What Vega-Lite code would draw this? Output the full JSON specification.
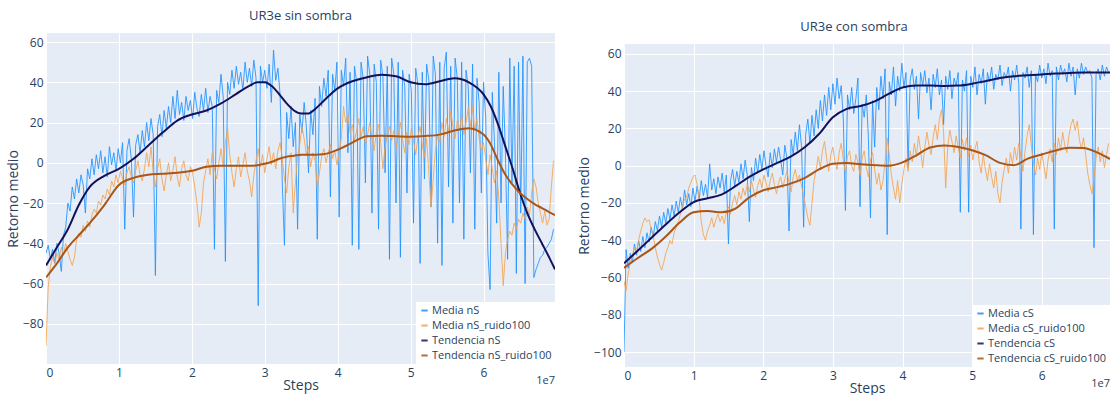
{
"$schema": "https://vega.github.io/schema/vega-lite/v6.json",
"background": "white",
"padding": {"left": 6, "top": 9, "right": 0, "bottom": 0},
"spacing": 22,
"datasets": {
"nS": [
{"x":0,"m":-45,"r":-91},{"x":0.03,"m":-41,"r":-62},{"x":0.06,"m":-48,"r":-52},{"x":0.09,"m":-43,"r":-47},{"x":0.12,"m":-50,"r":-50},{"x":0.15,"m":-40,"r":-45},{"x":0.18,"m":-45,"r":-48},{"x":0.21,"m":-54,"r":-42},{"x":0.24,"m":-36,"r":-46},{"x":0.27,"m":-32,"r":-40},
{"x":0.3,"m":-20,"r":-44},{"x":0.33,"m":-24,"r":-48},{"x":0.36,"m":-12,"r":-51},{"x":0.39,"m":-18,"r":-47},{"x":0.42,"m":-8,"r":-38},{"x":0.45,"m":-15,"r":-35},{"x":0.48,"m":-6,"r":-37},{"x":0.51,"m":-11,"r":-31},{"x":0.54,"m":-25,"r":-34},{"x":0.57,"m":-3,"r":-29},
{"x":0.6,"m":-8,"r":-32},{"x":0.63,"m":2,"r":-26},{"x":0.66,"m":-6,"r":-23},{"x":0.69,"m":4,"r":-25},{"x":0.72,"m":-3,"r":-19},{"x":0.75,"m":6,"r":-21},{"x":0.78,"m":-5,"r":-16},{"x":0.81,"m":3,"r":-18},{"x":0.84,"m":-7,"r":-13},{"x":0.87,"m":8,"r":-16},
{"x":0.9,"m":-1,"r":-9},{"x":0.93,"m":5,"r":-12},{"x":0.96,"m":-4,"r":-6},{"x":0.99,"m":7,"r":-10},{"x":1.02,"m":0,"r":-4},{"x":1.05,"m":10,"r":-8},{"x":1.08,"m":-33,"r":-11},{"x":1.11,"m":6,"r":-5},{"x":1.14,"m":12,"r":-2},{"x":1.17,"m":2,"r":-7},
{"x":1.2,"m":-27,"r":-10},{"x":1.23,"m":9,"r":-4},{"x":1.26,"m":14,"r":1},{"x":1.29,"m":5,"r":-6},{"x":1.32,"m":16,"r":-9},{"x":1.35,"m":8,"r":-3},{"x":1.38,"m":20,"r":5},{"x":1.41,"m":11,"r":-2},{"x":1.44,"m":22,"r":8},{"x":1.47,"m":14,"r":-5},
{"x":1.5,"m":-56,"r":-12},{"x":1.53,"m":18,"r":-3},{"x":1.56,"m":24,"r":2},{"x":1.59,"m":13,"r":-8},{"x":1.62,"m":26,"r":-14},{"x":1.65,"m":17,"r":-6},{"x":1.68,"m":28,"r":0},{"x":1.71,"m":20,"r":-9},{"x":1.74,"m":33,"r":-4},{"x":1.77,"m":22,"r":3},
{"x":1.8,"m":36,"r":-7},{"x":1.83,"m":24,"r":-12},{"x":1.86,"m":30,"r":-3},{"x":1.89,"m":21,"r":1},{"x":1.92,"m":33,"r":-6},{"x":1.95,"m":26,"r":-9},{"x":1.98,"m":31,"r":-2},{"x":2.01,"m":22,"r":-5},{"x":2.04,"m":35,"r":-12},{"x":2.07,"m":27,"r":-20},
{"x":2.1,"m":23,"r":-32},{"x":2.13,"m":34,"r":-25},{"x":2.16,"m":26,"r":-10},{"x":2.19,"m":37,"r":-4},{"x":2.22,"m":25,"r":2},{"x":2.25,"m":33,"r":-6},{"x":2.28,"m":28,"r":5},{"x":2.31,"m":-43,"r":-3},{"x":2.34,"m":36,"r":-8},{"x":2.37,"m":30,"r":0},
{"x":2.4,"m":44,"r":7},{"x":2.43,"m":33,"r":-2},{"x":2.46,"m":-49,"r":10},{"x":2.49,"m":40,"r":17},{"x":2.52,"m":34,"r":4},{"x":2.55,"m":46,"r":-5},{"x":2.58,"m":37,"r":-12},{"x":2.61,"m":48,"r":-3},{"x":2.64,"m":39,"r":3},{"x":2.67,"m":45,"r":-7},
{"x":2.7,"m":36,"r":-1},{"x":2.73,"m":50,"r":5},{"x":2.76,"m":40,"r":-4},{"x":2.79,"m":47,"r":-9},{"x":2.82,"m":38,"r":-17},{"x":2.85,"m":51,"r":-6},{"x":2.88,"m":42,"r":1},{"x":2.91,"m":-71,"r":7},{"x":2.94,"m":48,"r":-2},{"x":2.97,"m":40,"r":4},
{"x":3,"m":46,"r":-5},{"x":3.03,"m":37,"r":2},{"x":3.06,"m":49,"r":8},{"x":3.09,"m":30,"r":-1},{"x":3.12,"m":56,"r":5},{"x":3.15,"m":41,"r":-3},{"x":3.18,"m":47,"r":6},{"x":3.21,"m":34,"r":10},{"x":3.24,"m":-10,"r":2},{"x":3.27,"m":-41,"r":-8},
{"x":3.3,"m":25,"r":-15},{"x":3.33,"m":12,"r":-2},{"x":3.36,"m":28,"r":5},{"x":3.39,"m":8,"r":-25},{"x":3.42,"m":20,"r":-10},{"x":3.45,"m":-33,"r":3},{"x":3.48,"m":24,"r":9},{"x":3.51,"m":15,"r":18},{"x":3.54,"m":30,"r":12},{"x":3.57,"m":18,"r":4},
{"x":3.6,"m":-5,"r":8},{"x":3.63,"m":26,"r":-2},{"x":3.66,"m":14,"r":5},{"x":3.69,"m":32,"r":1},{"x":3.72,"m":-38,"r":-12},{"x":3.75,"m":38,"r":-5},{"x":3.78,"m":28,"r":3},{"x":3.81,"m":42,"r":7},{"x":3.84,"m":33,"r":0},{"x":3.87,"m":46,"r":5},
{"x":3.9,"m":-17,"r":9},{"x":3.93,"m":44,"r":2},{"x":3.96,"m":36,"r":6},{"x":3.99,"m":50,"r":-1},{"x":4.02,"m":-27,"r":4},{"x":4.05,"m":46,"r":12},{"x":4.08,"m":38,"r":28},{"x":4.11,"m":52,"r":20},{"x":4.14,"m":5,"r":24},{"x":4.17,"m":45,"r":15},
{"x":4.2,"m":-41,"r":19},{"x":4.23,"m":48,"r":11},{"x":4.26,"m":40,"r":16},{"x":4.29,"m":-43,"r":22},{"x":4.32,"m":50,"r":13},{"x":4.35,"m":42,"r":18},{"x":4.38,"m":-10,"r":9},{"x":4.41,"m":53,"r":14},{"x":4.44,"m":44,"r":20},{"x":4.47,"m":-25,"r":12},
{"x":4.5,"m":49,"r":6},{"x":4.53,"m":40,"r":15},{"x":4.56,"m":-33,"r":19},{"x":4.59,"m":51,"r":10},{"x":4.62,"m":43,"r":-3},{"x":4.65,"m":-5,"r":8},{"x":4.68,"m":48,"r":14},{"x":4.71,"m":-48,"r":18},{"x":4.74,"m":52,"r":11},{"x":4.77,"m":44,"r":16},
{"x":4.8,"m":-20,"r":7},{"x":4.83,"m":50,"r":13},{"x":4.86,"m":-47,"r":20},{"x":4.89,"m":46,"r":12},{"x":4.92,"m":38,"r":5},{"x":4.95,"m":-15,"r":15},{"x":4.98,"m":44,"r":9},{"x":5.01,"m":36,"r":17},{"x":5.04,"m":-30,"r":11},{"x":5.07,"m":47,"r":4},
{"x":5.1,"m":39,"r":13},{"x":5.13,"m":-50,"r":18},{"x":5.16,"m":45,"r":9},{"x":5.19,"m":-8,"r":3},{"x":5.22,"m":49,"r":12},{"x":5.25,"m":41,"r":-5},{"x":5.28,"m":-22,"r":-22},{"x":5.31,"m":53,"r":-8},{"x":5.34,"m":44,"r":6},{"x":5.37,"m":-40,"r":14},
{"x":5.4,"m":50,"r":10},{"x":5.43,"m":-51,"r":20},{"x":5.46,"m":47,"r":13},{"x":5.49,"m":55,"r":22},{"x":5.52,"m":-12,"r":15},{"x":5.55,"m":48,"r":26},{"x":5.58,"m":-30,"r":18},{"x":5.61,"m":52,"r":12},{"x":5.64,"m":42,"r":21},{"x":5.67,"m":-20,"r":16},
{"x":5.7,"m":50,"r":24},{"x":5.73,"m":-38,"r":14},{"x":5.76,"m":46,"r":20},{"x":5.79,"m":38,"r":27},{"x":5.82,"m":-5,"r":18},{"x":5.85,"m":49,"r":28},{"x":5.88,"m":-33,"r":16},{"x":5.91,"m":42,"r":22},{"x":5.94,"m":30,"r":12},{"x":5.97,"m":-15,"r":6},
{"x":6,"m":40,"r":10},{"x":6.03,"m":22,"r":2},{"x":6.06,"m":-45,"r":-6},{"x":6.09,"m":-63,"r":4},{"x":6.12,"m":35,"r":-3},{"x":6.15,"m":10,"r":-10},{"x":6.18,"m":-30,"r":-4},{"x":6.21,"m":45,"r":-18},{"x":6.24,"m":-20,"r":-40},{"x":6.27,"m":38,"r":-61},
{"x":6.3,"m":5,"r":-45},{"x":6.33,"m":-48,"r":-38},{"x":6.36,"m":52,"r":-34},{"x":6.39,"m":-10,"r":-36},{"x":6.42,"m":48,"r":-30},{"x":6.45,"m":-55,"r":-33},{"x":6.48,"m":50,"r":-28},{"x":6.51,"m":-25,"r":-30},{"x":6.54,"m":53,"r":-25},{"x":6.57,"m":-60,"r":-28},
{"x":6.6,"m":50,"r":-22},{"x":6.63,"m":52,"r":-26},{"x":6.66,"m":48,"r":-15},{"x":6.69,"m":-57,"r":-8},{"x":6.72,"m":-53,"r":-12},{"x":6.75,"m":-50,"r":-20},{"x":6.78,"m":-47,"r":-25},{"x":6.81,"m":-46,"r":-30},{"x":6.84,"m":-43,"r":-24},{"x":6.87,"m":-42,"r":-31},
{"x":6.9,"m":-40,"r":-28},{"x":6.93,"m":-38,"r":-12},{"x":6.96,"m":-33,"r":1}
],
"cS": [
{"x":0,"m":-100,"r":-62},{"x":0.03,"m":-45,"r":-67},{"x":0.06,"m":-55,"r":-58},{"x":0.09,"m":-47,"r":-52},{"x":0.12,"m":-52,"r":-48},{"x":0.15,"m":-42,"r":-44},{"x":0.18,"m":-48,"r":-46},{"x":0.21,"m":-40,"r":-40},{"x":0.24,"m":-46,"r":-35},{"x":0.27,"m":-38,"r":-31},
{"x":0.3,"m":-44,"r":-28},{"x":0.33,"m":-36,"r":-30},{"x":0.36,"m":-41,"r":-29},{"x":0.39,"m":-33,"r":-34},{"x":0.42,"m":-38,"r":-38},{"x":0.45,"m":-30,"r":-44},{"x":0.48,"m":-35,"r":-49},{"x":0.51,"m":-27,"r":-53},{"x":0.54,"m":-33,"r":-56},{"x":0.57,"m":-25,"r":-52},
{"x":0.6,"m":-31,"r":-47},{"x":0.63,"m":-23,"r":-44},{"x":0.66,"m":-29,"r":-40},{"x":0.69,"m":-21,"r":-42},{"x":0.72,"m":-27,"r":-36},{"x":0.75,"m":-19,"r":-33},{"x":0.78,"m":-25,"r":-30},{"x":0.81,"m":-17,"r":-26},{"x":0.84,"m":-23,"r":-22},{"x":0.87,"m":-13,"r":-18},
{"x":0.9,"m":-21,"r":-17},{"x":0.93,"m":-15,"r":-12},{"x":0.96,"m":-22,"r":-9},{"x":0.99,"m":-12,"r":-6},{"x":1.02,"m":-19,"r":-5},{"x":1.05,"m":-11,"r":-10},{"x":1.08,"m":-18,"r":-18},{"x":1.11,"m":-8,"r":-30},{"x":1.14,"m":-16,"r":-37},{"x":1.17,"m":-10,"r":-40},
{"x":1.2,"m":-17,"r":-35},{"x":1.23,"m":1,"r":-32},{"x":1.26,"m":-13,"r":-28},{"x":1.29,"m":-7,"r":-33},{"x":1.32,"m":-15,"r":-29},{"x":1.35,"m":-6,"r":-26},{"x":1.38,"m":-12,"r":-30},{"x":1.41,"m":-4,"r":-27},{"x":1.44,"m":-14,"r":-31},{"x":1.47,"m":-5,"r":-25},
{"x":1.5,"m":-42,"r":-22},{"x":1.53,"m":-8,"r":-26},{"x":1.56,"m":-2,"r":-20},{"x":1.59,"m":-11,"r":-16},{"x":1.62,"m":-3,"r":-21},{"x":1.65,"m":-9,"r":-14},{"x":1.68,"m":1,"r":-18},{"x":1.71,"m":-7,"r":-12},{"x":1.74,"m":3,"r":-16},{"x":1.77,"m":-5,"r":-10},
{"x":1.8,"m":-30,"r":-14},{"x":1.83,"m":-1,"r":-8},{"x":1.86,"m":-8,"r":-13},{"x":1.89,"m":4,"r":-17},{"x":1.92,"m":-4,"r":-11},{"x":1.95,"m":6,"r":-7},{"x":1.98,"m":-2,"r":-12},{"x":2.01,"m":8,"r":-5},{"x":2.04,"m":0,"r":-9},{"x":2.07,"m":-6,"r":-14},
{"x":2.1,"m":7,"r":-8},{"x":2.13,"m":-1,"r":-4},{"x":2.16,"m":9,"r":-10},{"x":2.19,"m":2,"r":-15},{"x":2.22,"m":10,"r":-9},{"x":2.25,"m":3,"r":-6},{"x":2.28,"m":-5,"r":-12},{"x":2.31,"m":11,"r":-7},{"x":2.34,"m":4,"r":-3},{"x":2.37,"m":-35,"r":-9},
{"x":2.4,"m":14,"r":-14},{"x":2.43,"m":6,"r":-6},{"x":2.46,"m":18,"r":-2},{"x":2.49,"m":8,"r":-8},{"x":2.52,"m":22,"r":-5},{"x":2.55,"m":10,"r":-11},{"x":2.58,"m":-33,"r":-16},{"x":2.61,"m":17,"r":-22},{"x":2.64,"m":25,"r":-28},{"x":2.67,"m":12,"r":-32},
{"x":2.7,"m":27,"r":-20},{"x":2.73,"m":16,"r":-8},{"x":2.76,"m":30,"r":-2},{"x":2.79,"m":20,"r":5},{"x":2.82,"m":35,"r":-1},{"x":2.85,"m":24,"r":8},{"x":2.88,"m":38,"r":13},{"x":2.91,"m":27,"r":4},{"x":2.94,"m":42,"r":-3},{"x":2.97,"m":30,"r":6},
{"x":3,"m":44,"r":10},{"x":3.03,"m":33,"r":2},{"x":3.06,"m":47,"r":-2},{"x":3.09,"m":36,"r":7},{"x":3.12,"m":43,"r":12},{"x":3.15,"m":25,"r":3},{"x":3.18,"m":-24,"r":-4},{"x":3.21,"m":38,"r":5},{"x":3.24,"m":30,"r":8},{"x":3.27,"m":42,"r":0},
{"x":3.3,"m":28,"r":-3},{"x":3.33,"m":36,"r":6},{"x":3.36,"m":47,"r":2},{"x":3.39,"m":-22,"r":-5},{"x":3.42,"m":33,"r":4},{"x":3.45,"m":26,"r":8},{"x":3.48,"m":38,"r":-1},{"x":3.51,"m":15,"r":-6},{"x":3.54,"m":-28,"r":3},{"x":3.57,"m":35,"r":7},
{"x":3.6,"m":10,"r":-2},{"x":3.63,"m":42,"r":-10},{"x":3.66,"m":30,"r":-4},{"x":3.69,"m":48,"r":-13},{"x":3.72,"m":36,"r":-8},{"x":3.75,"m":52,"r":2},{"x":3.78,"m":-37,"r":15},{"x":3.81,"m":45,"r":6},{"x":3.84,"m":38,"r":-5},{"x":3.87,"m":53,"r":-12},
{"x":3.9,"m":32,"r":-18},{"x":3.93,"m":48,"r":-8},{"x":3.96,"m":40,"r":-20},{"x":3.99,"m":55,"r":-10},{"x":4.02,"m":42,"r":-2},{"x":4.05,"m":50,"r":4},{"x":4.08,"m":-1,"r":-3},{"x":4.11,"m":46,"r":8},{"x":4.14,"m":52,"r":2},{"x":4.17,"m":41,"r":12},
{"x":4.2,"m":48,"r":5},{"x":4.23,"m":25,"r":16},{"x":4.26,"m":50,"r":8},{"x":4.29,"m":43,"r":-1},{"x":4.32,"m":51,"r":10},{"x":4.35,"m":39,"r":18},{"x":4.38,"m":47,"r":11},{"x":4.41,"m":30,"r":6},{"x":4.44,"m":49,"r":15},{"x":4.47,"m":42,"r":22},
{"x":4.5,"m":52,"r":14},{"x":4.53,"m":38,"r":25},{"x":4.56,"m":46,"r":30},{"x":4.59,"m":22,"r":18},{"x":4.62,"m":48,"r":-12},{"x":4.65,"m":41,"r":10},{"x":4.68,"m":51,"r":19},{"x":4.71,"m":36,"r":13},{"x":4.74,"m":47,"r":7},{"x":4.77,"m":43,"r":16},
{"x":4.8,"m":50,"r":10},{"x":4.83,"m":-25,"r":4},{"x":4.86,"m":46,"r":14},{"x":4.89,"m":40,"r":8},{"x":4.92,"m":51,"r":15},{"x":4.95,"m":-25,"r":5},{"x":4.98,"m":48,"r":11},{"x":5.01,"m":42,"r":3},{"x":5.04,"m":53,"r":9},{"x":5.07,"m":38,"r":13},
{"x":5.1,"m":49,"r":2},{"x":5.13,"m":44,"r":-4},{"x":5.16,"m":52,"r":6},{"x":5.19,"m":33,"r":-2},{"x":5.22,"m":50,"r":-8},{"x":5.25,"m":45,"r":1},{"x":5.28,"m":53,"r":-6},{"x":5.31,"m":41,"r":-12},{"x":5.34,"m":49,"r":-3},{"x":5.37,"m":46,"r":-15},
{"x":5.4,"m":54,"r":-20},{"x":5.43,"m":43,"r":-9},{"x":5.46,"m":50,"r":-2},{"x":5.49,"m":47,"r":4},{"x":5.52,"m":53,"r":-4},{"x":5.55,"m":40,"r":7},{"x":5.58,"m":51,"r":1},{"x":5.61,"m":46,"r":10},{"x":5.64,"m":54,"r":3},{"x":5.67,"m":44,"r":12},
{"x":5.7,"m":-34,"r":5},{"x":5.73,"m":50,"r":-3},{"x":5.76,"m":47,"r":8},{"x":5.79,"m":53,"r":16},{"x":5.82,"m":42,"r":22},{"x":5.85,"m":51,"r":11},{"x":5.88,"m":-37,"r":2},{"x":5.91,"m":49,"r":-5},{"x":5.94,"m":45,"r":4},{"x":5.97,"m":54,"r":-2},
{"x":6,"m":47,"r":7},{"x":6.03,"m":52,"r":0},{"x":6.06,"m":44,"r":-7},{"x":6.09,"m":55,"r":3},{"x":6.12,"m":48,"r":9},{"x":6.15,"m":51,"r":2},{"x":6.18,"m":-34,"r":12},{"x":6.21,"m":53,"r":6},{"x":6.24,"m":46,"r":15},{"x":6.27,"m":54,"r":8},
{"x":6.3,"m":49,"r":18},{"x":6.33,"m":52,"r":11},{"x":6.36,"m":45,"r":7},{"x":6.39,"m":55,"r":16},{"x":6.42,"m":48,"r":22},{"x":6.45,"m":53,"r":25},{"x":6.48,"m":38,"r":19},{"x":6.51,"m":52,"r":24},{"x":6.54,"m":47,"r":14},{"x":6.57,"m":55,"r":9},
{"x":6.6,"m":49,"r":15},{"x":6.63,"m":53,"r":6},{"x":6.66,"m":50,"r":-4},{"x":6.69,"m":51,"r":-10},{"x":6.72,"m":47,"r":-15},{"x":6.75,"m":-44,"r":-6},{"x":6.78,"m":49,"r":4},{"x":6.81,"m":52,"r":10},{"x":6.84,"m":46,"r":2},{"x":6.87,"m":54,"r":8},
{"x":6.9,"m":48,"r":-1},{"x":6.93,"m":53,"r":6},{"x":6.96,"m":50,"r":12}
],
"tnS": [
{"x":0,"t":-51,"u":-57},{"x":0.15,"t":-42,"u":-50},{"x":0.3,"t":-33,"u":-42},{"x":0.45,"t":-21,"u":-36},{"x":0.6,"t":-12,"u":-30},{"x":0.8,"t":-6.5,"u":-21},{"x":1,"t":-3,"u":-11},{"x":1.2,"t":2,"u":-7.5},{"x":1.4,"t":8.5,"u":-6},{"x":1.6,"t":15,"u":-5.5},
{"x":1.8,"t":21,"u":-5},{"x":2,"t":24,"u":-4},{"x":2.2,"t":26,"u":-2},{"x":2.4,"t":29.5,"u":-1.5},{"x":2.6,"t":34,"u":-1.5},{"x":2.8,"t":38.5,"u":-1.5},{"x":2.9,"t":40,"u":-1.2},{"x":3,"t":40,"u":-0.5},{"x":3.1,"t":38,"u":0.5},{"x":3.2,"t":34,"u":2},
{"x":3.3,"t":29.5,"u":3},{"x":3.4,"t":26,"u":3.5},{"x":3.5,"t":24.5,"u":4},{"x":3.6,"t":24.5,"u":4},{"x":3.7,"t":27,"u":4},{"x":3.8,"t":30.5,"u":4.2},{"x":4,"t":37,"u":6.5},{"x":4.2,"t":40.5,"u":10},{"x":4.4,"t":42.5,"u":13.2},{"x":4.6,"t":43.8,"u":13.4},
{"x":4.8,"t":43,"u":13.2},{"x":5,"t":40,"u":13},{"x":5.2,"t":39,"u":13.3},{"x":5.4,"t":40.5,"u":14},{"x":5.6,"t":42,"u":16},{"x":5.8,"t":40,"u":17.2},{"x":6,"t":34,"u":14},{"x":6.1,"t":28,"u":9},{"x":6.2,"t":19,"u":1},{"x":6.3,"t":8,"u":-6},
{"x":6.4,"t":-3,"u":-11},{"x":6.5,"t":-15,"u":-15},{"x":6.6,"t":-25,"u":-18},{"x":6.7,"t":-33,"u":-20.5},{"x":6.8,"t":-40,"u":-22.5},{"x":6.9,"t":-47,"u":-24.5},{"x":6.98,"t":-53,"u":-26}
],
"tcS": [
{"x":0,"t":-52.4,"u":-54.8},{"x":0.2,"t":-45.5,"u":-49.5},{"x":0.4,"t":-38.5,"u":-44.5},{"x":0.6,"t":-31.5,"u":-38},{"x":0.8,"t":-25,"u":-30.5},{"x":1,"t":-19.5,"u":-25},{"x":1.2,"t":-17.5,"u":-24.3},{"x":1.4,"t":-15.5,"u":-25},{"x":1.6,"t":-11,"u":-23},{"x":1.8,"t":-6,"u":-17},
{"x":2,"t":-2,"u":-13.2},{"x":2.2,"t":1.5,"u":-11.5},{"x":2.4,"t":5,"u":-9.5},{"x":2.6,"t":10,"u":-6.5},{"x":2.8,"t":17,"u":-2},{"x":3,"t":26,"u":1},{"x":3.2,"t":30.5,"u":1.5},{"x":3.4,"t":32,"u":0.8},{"x":3.6,"t":34.5,"u":0.3},{"x":3.8,"t":38.5,"u":0},
{"x":4,"t":42,"u":1.8},{"x":4.2,"t":43,"u":5.6},{"x":4.4,"t":43,"u":9.8},{"x":4.6,"t":42.8,"u":10.8},{"x":4.8,"t":43,"u":10},{"x":5,"t":44,"u":8.3},{"x":5.2,"t":45.5,"u":5.5},{"x":5.4,"t":47,"u":1.5},{"x":5.6,"t":48,"u":0.3},{"x":5.8,"t":48.5,"u":3.8},
{"x":6,"t":49,"u":6},{"x":6.2,"t":49.5,"u":8.2},{"x":6.4,"t":49.8,"u":9.6},{"x":6.6,"t":50,"u":9.5},{"x":6.8,"t":50,"u":7},{"x":6.98,"t":50,"u":3.6}
]
},
"hconcat": [
{"spacing": 0,
 "resolve": {"scale": {"color": "independent", "x": "independent", "y": "independent"}, "legend": {"color": "independent"}},
 "vconcat": [
{"width": 10, "height": 1, "data": {"values": []}, "mark": "point", "view": {"fill": null, "stroke": null}},
{
"width": 509, "height": 331,
"view": {"fill": "#E5ECF6", "stroke": null},
"title": {"text": "UR3e sin sombra"},
"resolve": {"scale": {"color": "shared"}, "legend": {"color": "shared"}},
"layer": [
{"data": {"name": "nS"}, "mark": {"type": "line", "strokeWidth": 1, "opacity": 0.85, "clip": true},
 "encoding": {
  "x": {"field": "x", "type": "quantitative", "title": "Steps", "scale": {"domain": [0, 6.98], "nice": false, "zero": false}, "axis": {"values": [0,1,2,3,4,5,6], "format": "d", "labelPadding": 3, "titlePadding": 0}},
  "y": {"field": "m", "type": "quantitative", "title": "Retorno medio", "scale": {"domain": [-100, 64.5], "nice": false, "zero": false}, "axis": {"values": [-80,-60,-40,-20,0,20,40,60], "labelPadding": 3, "titlePadding": 2}},
  "color": {"datum": "Media nS", "title": null, "scale": {"domain": ["Media nS", "Media nS_ruido100", "Tendencia nS", "Tendencia nS_ruido100"], "range": ["#1E90FF", "#F5A24E", "#12125C", "#A8561A"]}, "legend": {"orient": "bottom-right"}}
 }},
{"data": {"name": "nS"}, "mark": {"type": "line", "strokeWidth": 1, "opacity": 0.85, "clip": true},
 "encoding": {"x": {"field": "x", "type": "quantitative"}, "y": {"field": "r", "type": "quantitative"}, "color": {"datum": "Media nS_ruido100"}}},
{"data": {"name": "tnS"}, "mark": {"type": "line", "strokeWidth": 2, "interpolate": "monotone", "clip": true},
 "encoding": {"x": {"field": "x", "type": "quantitative"}, "y": {"field": "t", "type": "quantitative"}, "color": {"datum": "Tendencia nS"}}},
{"data": {"name": "tnS"}, "mark": {"type": "line", "strokeWidth": 2, "interpolate": "monotone", "clip": true},
 "encoding": {"x": {"field": "x", "type": "quantitative"}, "y": {"field": "u", "type": "quantitative"}, "color": {"datum": "Tendencia nS_ruido100"}}},
{"data": {"values": [{}]}, "mark": {"type": "text", "text": "1e7", "align": "right", "baseline": "top", "dy": 11, "fontSize": 11, "color": "#2a3f5f"},
 "encoding": {"x": {"datum": 6.98, "type": "quantitative"}, "y": {"datum": -100, "type": "quantitative"}}}
]
}
]},
{"spacing": 0,
 "resolve": {"scale": {"color": "independent", "x": "independent", "y": "independent"}, "legend": {"color": "independent"}},
 "vconcat": [
{"width": 10, "height": 12, "data": {"values": []}, "mark": "point", "view": {"fill": null, "stroke": null}},
{
"width": 486, "height": 323,
"view": {"fill": "#E5ECF6", "stroke": null},
"title": {"text": "UR3e con sombra", "dx": -13},
"resolve": {"scale": {"color": "shared"}, "legend": {"color": "shared"}},
"layer": [
{"data": {"name": "cS"}, "mark": {"type": "line", "strokeWidth": 1, "opacity": 0.85, "clip": true},
 "encoding": {
  "x": {"field": "x", "type": "quantitative", "title": "Steps", "scale": {"domain": [0, 6.98], "nice": false, "zero": false}, "axis": {"values": [0,1,2,3,4,5,6], "format": "d", "labelPadding": 3, "titlePadding": 0}},
  "y": {"field": "m", "type": "quantitative", "title": "Retorno medio", "scale": {"domain": [-108, 65.3], "nice": false, "zero": false}, "axis": {"values": [-100,-80,-60,-40,-20,0,20,40,60], "labelPadding": 3, "titlePadding": 2}},
  "color": {"datum": "Media cS", "title": null, "scale": {"domain": ["Media cS", "Media cS_ruido100", "Tendencia cS", "Tendencia cS_ruido100"], "range": ["#1E90FF", "#F5A24E", "#12125C", "#A8561A"]}, "legend": {"orient": "bottom-right"}}
 }},
{"data": {"name": "cS"}, "mark": {"type": "line", "strokeWidth": 1, "opacity": 0.85, "clip": true},
 "encoding": {"x": {"field": "x", "type": "quantitative"}, "y": {"field": "r", "type": "quantitative"}, "color": {"datum": "Media cS_ruido100"}}},
{"data": {"name": "tcS"}, "mark": {"type": "line", "strokeWidth": 2, "interpolate": "monotone", "clip": true},
 "encoding": {"x": {"field": "x", "type": "quantitative"}, "y": {"field": "t", "type": "quantitative"}, "color": {"datum": "Tendencia cS"}}},
{"data": {"name": "tcS"}, "mark": {"type": "line", "strokeWidth": 2, "interpolate": "monotone", "clip": true},
 "encoding": {"x": {"field": "x", "type": "quantitative"}, "y": {"field": "u", "type": "quantitative"}, "color": {"datum": "Tendencia cS_ruido100"}}},
{"data": {"values": [{}]}, "mark": {"type": "text", "text": "1e7", "align": "right", "baseline": "top", "dy": 11, "fontSize": 11, "color": "#2a3f5f"},
 "encoding": {"x": {"datum": 6.98, "type": "quantitative"}, "y": {"datum": -108, "type": "quantitative"}}}
]
}
]}
],
"resolve": {"scale": {"color": "independent", "x": "independent", "y": "independent"}, "legend": {"color": "independent"}},
"config": {
 "font": "Open Sans",
 "view": {"stroke": null},
 "axis": {"grid": true, "gridColor": "white", "gridWidth": 1, "domain": false, "ticks": false, "labelColor": "#2a3f5f", "labelFontSize": 12, "titleColor": "#2a3f5f", "titleFontSize": 14, "titleFontWeight": "normal"},
 "title": {"fontSize": 13, "fontWeight": "normal", "color": "#2a3f5f", "anchor": "middle", "offset": 10},
 "legend": {"orient": "bottom-right", "offset": 0, "fillColor": "white", "padding": 3, "labelFontSize": 11, "labelColor": "#2a3f5f", "symbolType": "stroke", "symbolStrokeWidth": 2, "symbolSize": 40, "rowPadding": 3, "labelOffset": 2}
}
}
